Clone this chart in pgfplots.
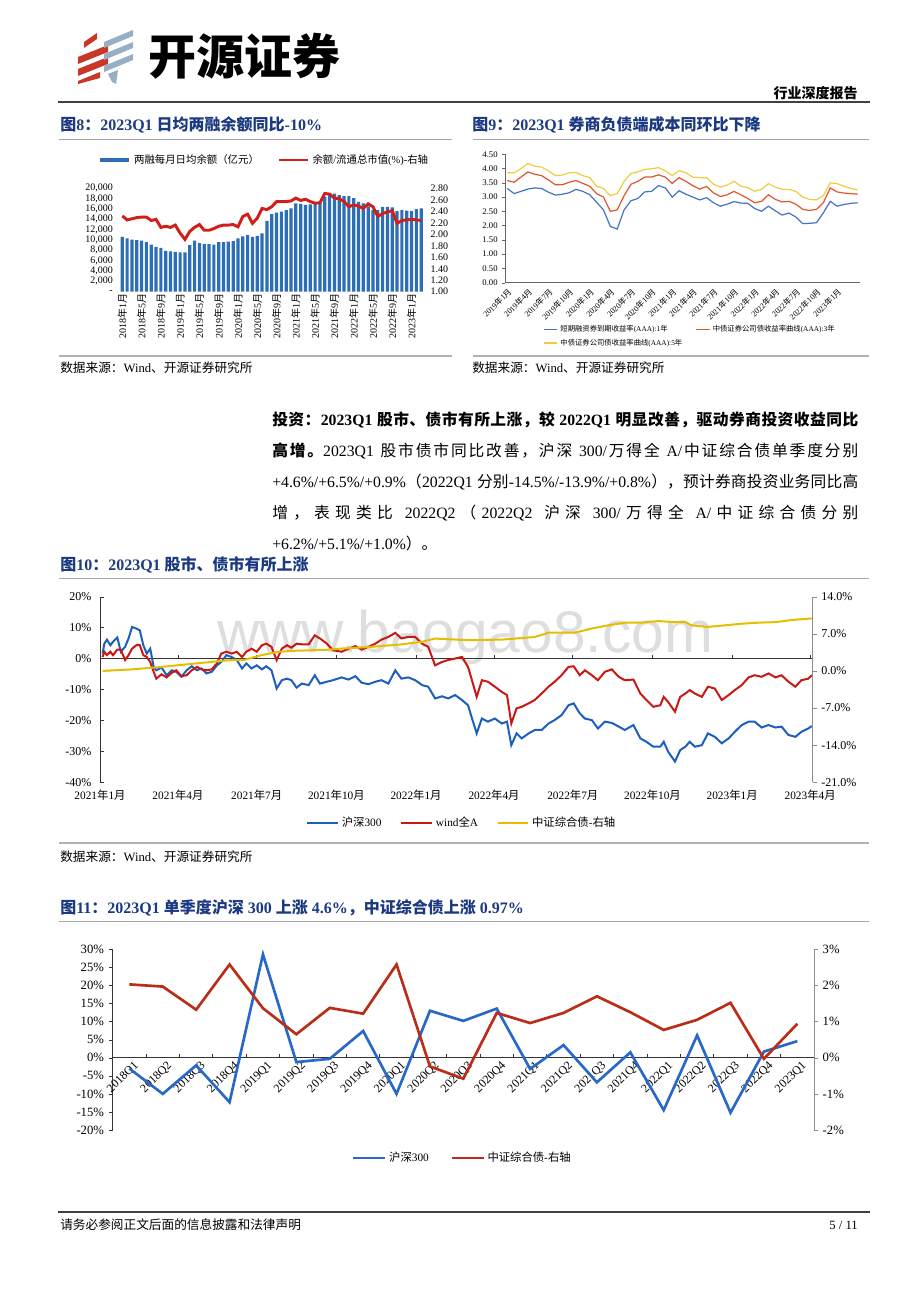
\documentclass[border=0pt]{standalone}
\usepackage{fontspec}
\setmainfont{Liberation Serif}
\newfontfamily\cjkfont{Noto Sans CJK SC}
\newfontfamily\wmfont{Liberation Sans}
\usepackage{pgfplots}
\pgfplotsset{compat=1.18}

% switch to the CJK font for CJK characters, back to the main font afterwards
\XeTeXinterchartokenstate=1
\newXeTeXintercharclass\CJKclass
\newcount\cjkc
\def\setcjkrange#1#2{\cjkc=#1 \loop\XeTeXcharclass\cjkc=\CJKclass\advance\cjkc by 1 \ifnum\cjkc<#2 \repeat}
\setcjkrange{"3000}{"3040}
\setcjkrange{"4E00}{"A000}
\setcjkrange{"FF00}{"FFF0}
\def\jfil{}
\XeTeXinterchartoks 0 \CJKclass = {\jfil\cjkfont}
\XeTeXinterchartoks 4095 \CJKclass = {\cjkfont}
\XeTeXinterchartoks \CJKclass 0 = {\jfil\rmfamily}
\XeTeXinterchartoks \CJKclass 4095 = {\rmfamily}
\XeTeXinterchartoks \CJKclass \CJKclass = {\jfil}

\newcommand\fs[1]{\fontsize{#1}{#1}\selectfont}
% one justified line of the paragraph
\newcommand\jline[1]{{\def\jfil{\hskip 0pt plus 1fil}\spaceskip=0.25em plus 1.5fil\relax\makebox[439.5pt][s]{#1}}}

\definecolor{titleblue}{RGB}{28,58,130}
\definecolor{logored}{RGB}{200,55,40}
\definecolor{logoblue}{RGB}{150,175,195}
\definecolor{c8bar}{RGB}{45,110,185}
\definecolor{c8red}{RGB}{210,30,25}
\definecolor{c9blue}{RGB}{68,114,196}
\definecolor{c9red}{RGB}{225,85,45}
\definecolor{c9yel}{RGB}{240,205,60}
\definecolor{c10blue}{RGB}{30,95,190}
\definecolor{c10red}{RGB}{200,25,20}
\definecolor{c10yel}{RGB}{230,190,0}
\definecolor{c11blue}{RGB}{40,105,200}
\definecolor{c11red}{RGB}{185,45,25}

\begin{document}
\begin{tikzpicture}[x=0.75pt,y=-0.75pt]
\fill[white] (0,0) rectangle (920,1302);

% ---- header
\fill[logored] (84,42) -- (97,33) -- (97,39) -- (84,48) -- cycle;
\fill[logored] (78,57) -- (108,45) -- (108,52) -- (78,64) -- cycle;
\fill[logored] (78,69) -- (108,57) -- (108,64) -- (78,76) -- cycle;
\fill[logored] (78,81) -- (100,72) -- (100,78) -- (78,84) -- cycle;
\fill[logoblue] (104,42) -- (133,30) -- (133,36) -- (104,48) -- cycle;
\fill[logoblue] (104,54) -- (133,42) -- (133,48) -- (104,60) -- cycle;
\fill[logoblue] (104,66) -- (133,54) -- (133,60) -- (104,72) -- cycle;
\fill[logoblue] (108,74) -- (118,70) -- (116,84) -- (112,82) -- cycle;
\node[anchor=west, inner sep=0pt] at (148,56) {\fs{36}\bfseries 开源证券};
\node[anchor=east, inner sep=0pt] at (858,93) {\fs{10.5}\bfseries 行业深度报告};
\draw[black!75, line width=1.2pt] (58,102) -- (870,102);

% ---- figure titles and rules
\node[anchor=west, inner sep=0pt, text=titleblue] at (60,125) {\fs{12}\bfseries 图8：2023Q1 日均两融余额同比-10\%};
\node[anchor=west, inner sep=0pt, text=titleblue] at (472,125) {\fs{12}\bfseries 图9：2023Q1 券商负债端成本同环比下降};
\draw[gray!70, line width=0.6pt] (59,139) -- (452,139);
\draw[gray!70, line width=0.6pt] (473,139) -- (869,139);
\draw[gray!60, line width=1.5pt] (59,356) -- (452,356);
\draw[gray!60, line width=1.5pt] (473,356) -- (869,356);
\node[anchor=west, inner sep=0pt] at (60,368) {\fs{9.5}数据来源：Wind、开源证券研究所};
\node[anchor=west, inner sep=0pt] at (472,368) {\fs{9.5}数据来源：Wind、开源证券研究所};

% ---- paragraph
\node[anchor=west, inner sep=0pt] at (272,420) {\fs{11.8}\bfseries\jline{投资：2023Q1 股市、债市有所上涨，较 2022Q1 明显改善，驱动券商投资收益同比}};
\node[anchor=west, inner sep=0pt] at (272,451) {\fs{11.8}\jline{\textbf{高增。}2023Q1 股市债市同比改善，沪深 300/万得全 A/中证综合债单季度分别}};
\node[anchor=west, inner sep=0pt] at (272,482) {\fs{11.8}\jline{+4.6\%/+6.5\%/+0.9\%（2022Q1 分别-14.5\%/-13.9\%/+0.8\%），预计券商投资业务同比高}};
\node[anchor=west, inner sep=0pt] at (272,513) {\fs{11.8}\jline{增，表现类比 2022Q2（2022Q2 沪深 300/万得全 A/中证综合债分别}};
\node[anchor=west, inner sep=0pt] at (272,544) {\fs{11.8}+6.2\%/+5.1\%/+1.0\%）。};

\node[anchor=west, inner sep=0pt, text=titleblue] at (60,565) {\fs{12}\bfseries 图10：2023Q1 股市、债市有所上涨};
\draw[gray!70, line width=0.6pt] (59,578) -- (869,578);
\draw[gray!60, line width=1.5pt] (59,843) -- (869,843);
\node[anchor=west, inner sep=0pt] at (60,857) {\fs{9.5}数据来源：Wind、开源证券研究所};
\node[anchor=base west, inner sep=0pt, text=black!13] at (217,652) {\wmfont\fs{44}www.baogao8.com};

\node[anchor=west, inner sep=0pt, text=titleblue] at (60,908) {\fs{12}\bfseries 图11：2023Q1 单季度沪深 300 上涨 4.6\%，中证综合债上涨 0.97\%};
\draw[gray!70, line width=0.6pt] (59,921) -- (869,921);
\draw[black!75, line width=1pt] (58,1212) -- (870,1212);
\node[anchor=west, inner sep=0pt] at (60,1225) {\fs{9.5}请务必参阅正文后面的信息披露和法律声明};
\node[anchor=east, inner sep=0pt] at (858,1225) {\fs{9.5}5 / 11};

% ================= Figure 8
\begin{axis}[at={(88.1pt,-218.8pt)}, anchor=south west, scale only axis,
  width=231.4pt, height=77.55pt,
  xmin=-1, xmax=63, ymin=0, ymax=20000,
  axis line style={draw=none}, tick style={draw=none},
  xtick pos=bottom, ytick pos=left, scaled y ticks=false,
  ytick={0,2000,4000,6000,8000,10000,12000,14000,16000,18000,20000},
  yticklabels={-,{2,000},{4,000},{6,000},{8,000},{10,000},{12,000},{14,000},{16,000},{18,000},{20,000}},
  xtick={0,4,...,60},
  xticklabels={2018年1月,2018年5月,2018年9月,2019年1月,2019年5月,2019年9月,2020年1月,2020年5月,2020年9月,2021年1月,2021年5月,2021年9月,2022年1月,2022年5月,2022年9月,2023年1月},
  x tick label style={rotate=90, anchor=east, font=\fs{7.5}, inner sep=1pt},
  y tick label style={font=\fs{7.5}},
]
\addplot[ybar, bar width=2.4pt, fill=c8bar, draw=none] coordinates {
(0,10600) (1,10300) (2,10100) (3,10000) (4,9900) (5,9600) (6,9100) (7,8700)
(8,8500) (9,7900) (10,7800) (11,7700) (12,7600) (13,7600) (14,9000) (15,9900)
(16,9400) (17,9200) (18,9200) (19,9100) (20,9600) (21,9600) (22,9700) (23,9800)
(24,10300) (25,10700) (26,11000) (27,10600) (28,10800) (29,11300) (30,13700) (31,15000)
(32,15300) (33,15500) (34,15800) (35,16100) (36,17100) (37,17000) (38,16800) (39,16900)
(40,17100) (41,17400) (42,18400) (43,19000) (44,19000) (45,18700) (46,18500) (47,18500)
(48,18100) (49,17400) (50,17100) (51,16500) (52,15800) (53,15800) (54,16400) (55,16400)
(56,16300) (57,15600) (58,15800) (59,15700) (60,15600) (61,16000) (62,16100)
};
\end{axis}
\begin{axis}[at={(88.1pt,-218.8pt)}, anchor=south west, scale only axis,
  width=231.4pt, height=77.55pt,
  xmin=-1, xmax=63, ymin=1, ymax=2.8,
  axis x line=none, axis y line*=right, axis line style={draw=none}, tick style={draw=none},
  ytick={1,1.2,1.4,1.6,1.8,2,2.2,2.4,2.6,2.8},
  yticklabels={1.00,1.20,1.40,1.60,1.80,2.00,2.20,2.40,2.60,2.80},
  y tick label style={font=\fs{7.5}},
  legend image code/.code={\draw[#1] (0pt,0pt) -- (22pt,0pt);},
  legend style={draw=none, fill=none, font=\fs{7.8}, at={(0.475,1.274)}, anchor=center,
    inner sep=0pt, /tikz/every even column/.append style={column sep=12pt}},
  legend columns=2, legend cell align=left,
]
\addlegendimage{c8bar, line width=3.6pt}
\addlegendentry{两融每月日均余额（亿元）}
\addplot[c8red, line width=2.2pt] coordinates {
(0,2.32) (1,2.25) (2,2.27) (3,2.29) (4,2.30) (5,2.30) (6,2.24) (7,2.26)
(8,2.12) (9,2.14) (10,2.12) (11,2.16) (12,2.02) (13,1.91) (14,2.05) (15,2.12)
(16,2.17) (17,2.07) (18,2.07) (19,2.10) (20,2.14) (21,2.16) (22,2.16) (23,2.17)
(24,2.13) (25,2.31) (26,2.35) (27,2.19) (28,2.28) (29,2.45) (30,2.43) (31,2.48)
(32,2.57) (33,2.57) (34,2.57) (35,2.58) (36,2.63) (37,2.59) (38,2.61) (39,2.57)
(40,2.54) (41,2.55) (42,2.71) (43,2.70) (44,2.63) (45,2.62) (46,2.57) (47,2.48)
(48,2.51) (49,2.49) (50,2.45) (51,2.53) (52,2.48) (53,2.31) (54,2.36) (55,2.39)
(56,2.41) (57,2.19) (58,2.24) (59,2.25) (60,2.26) (61,2.25) (62,2.24)
};
\addlegendentry{余额/流通总市值(\%)-右轴}
\end{axis}

% ================= Figure 9
\begin{axis}[at={(378.75pt,-212pt)}, anchor=south west, scale only axis,
  width=266.25pt, height=96.3pt,
  xmin=-0.33, xmax=51.33, ymin=0, ymax=4.5,
  axis x line*=bottom, axis y line*=left, axis line style={black!60, line width=0.5pt},
  ytick={0,0.5,1,1.5,2,2.5,3,3.5,4,4.5},
  yticklabels={0.00,0.50,1.00,1.50,2.00,2.50,3.00,3.50,4.00,4.50},
  xtick={0,3,...,48},
  xticklabels={2019年1月,2019年4月,2019年7月,2019年10月,2020年1月,2020年4月,2020年7月,2020年10月,2021年1月,2021年4月,2021年7月,2021年10月,2022年1月,2022年4月,2022年7月,2022年10月,2023年1月},
  x tick label style={rotate=45, anchor=north east, font=\fs{6}, inner sep=1pt},
  y tick label style={font=\fs{6.5}},
  xtick style={draw=none}, ytick style={black!60}, major tick length=2pt, tick align=outside,
  legend image code/.code={\draw[#1] (0pt,0pt) -- (10pt,0pt);},
  legend style={draw=none, fill=none, font=\fs{5.5}, at={(0.107,-0.31)}, anchor=north west,
    inner sep=0pt, /tikz/every even column/.append style={column sep=8pt}},
  legend columns=2, legend cell align=left,
]
\addplot[c9blue, line width=0.9pt] coordinates {
(0,3.30) (1,3.12) (2,3.20) (3,3.28) (4,3.32) (5,3.30) (6,3.17) (7,3.07) (8,3.10) (9,3.15)
(10,3.27) (11,3.20) (12,3.08) (13,2.82) (14,2.55) (15,1.97) (16,1.88) (17,2.55) (18,2.87) (19,2.95)
(20,3.18) (21,3.20) (22,3.40) (23,3.32) (24,3.00) (25,3.22) (26,3.10) (27,3.00) (28,2.90) (29,2.98)
(30,2.80) (31,2.68) (32,2.75) (33,2.84) (34,2.79) (35,2.78) (36,2.60) (37,2.50) (38,2.68) (39,2.52)
(40,2.37) (41,2.44) (42,2.30) (43,2.07) (44,2.08) (45,2.10) (46,2.45) (47,2.85) (48,2.68) (49,2.74)
(50,2.78) (51,2.80)
};
\addlegendentry{短期融资券到期收益率(AAA):1年}
\addplot[c9red, line width=0.9pt] coordinates {
(0,3.58) (1,3.52) (2,3.70) (3,3.88) (4,3.80) (5,3.75) (6,3.60) (7,3.43) (8,3.43) (9,3.52)
(10,3.58) (11,3.48) (12,3.38) (13,3.12) (14,3.00) (15,2.50) (16,2.55) (17,3.05) (18,3.45) (19,3.55)
(20,3.70) (21,3.70) (22,3.78) (23,3.70) (24,3.48) (25,3.68) (26,3.55) (27,3.40) (28,3.28) (29,3.37)
(30,3.15) (31,3.02) (32,3.08) (33,3.20) (34,3.08) (35,2.95) (36,2.80) (37,2.85) (38,3.08) (39,2.92)
(40,2.83) (41,2.85) (42,2.75) (43,2.57) (44,2.53) (45,2.57) (46,2.80) (47,3.32) (48,3.18) (49,3.14)
(50,3.12) (51,3.10)
};
\addlegendentry{中债证券公司债收益率曲线(AAA):3年}
\addplot[c9yel, line width=0.9pt] coordinates {
(0,3.85) (1,3.85) (2,4.00) (3,4.18) (4,4.08) (5,4.05) (6,3.92) (7,3.75) (8,3.77) (9,3.85)
(10,3.86) (11,3.75) (12,3.68) (13,3.38) (14,3.30) (15,3.05) (16,3.12) (17,3.55) (18,3.83) (19,3.88)
(20,3.97) (21,3.99) (22,4.03) (23,3.92) (24,3.75) (25,3.92) (26,3.85) (27,3.70) (28,3.68) (29,3.68)
(30,3.45) (31,3.35) (32,3.42) (33,3.55) (34,3.38) (35,3.33) (36,3.20) (37,3.27) (38,3.47) (39,3.35)
(40,3.27) (41,3.27) (42,3.20) (43,3.00) (44,2.92) (45,2.90) (46,3.05) (47,3.50) (48,3.47) (49,3.38)
(50,3.30) (51,3.25)
};
\addlegendentry{中债证券公司债收益率曲线(AAA):5年}
\end{axis}

% ================= Figure 10 (x = days since 2021-01-01)
\begin{axis}[at={(75pt,-586.7pt)}, anchor=south west, scale only axis,
  width=534.5pt, height=139.2pt,
  xmin=0, xmax=823, ymin=-40, ymax=20,
  axis x line*=bottom, axis y line*=left,
  x axis line style={draw=none}, y axis line style={black!80, line width=0.6pt},
  xtick={0,90,181,273,365,455,546,638,730,820},
  xticklabels={2021年1月,2021年4月,2021年7月,2021年10月,2022年1月,2022年4月,2022年7月,2022年10月,2023年1月,2023年4月},
  xtick style={draw=none}, x tick label style={font=\fs{8.5}, yshift=-2pt},
  ytick={-40,-30,...,20},
  yticklabels={-40\%,-30\%,-20\%,-10\%,0\%,10\%,20\%},
  y tick label style={font=\fs{9}, xshift=-3pt}, ytick style={black!80},
  major tick length=3pt, tick align=inside,
]
\draw[black!80, line width=0.6pt] (axis cs:0,0) -- (axis cs:823,0);
\pgfplotsinvokeforeach{90,181,273,365,455,546,638,730,820}{\draw[black!80, line width=0.6pt] (axis cs:#1,0) -- ++(0pt,3pt);}
\addplot[c10blue, line width=1.5pt] coordinates {
(3,1.6) (5,4.8) (8,6.1) (12,4.3) (15,5.4) (20,6.8) (24,2.2) (29,3.8) (33,6.5) (37,10.2)
(42,9.7) (46,9.1) (50,4.3) (54,1.6) (58,3.2) (62,-2.7) (65,-3.8) (71,-2.9) (77,-5.4) (83,-3.8)
(88,-4.3) (94,-5.9) (100,-3.8) (106,-2.5) (112,-3.8) (117,-3.2) (123,-4.8) (129,-4.3) (135,-2.2) (140,-1.1)
(146,1.1) (152,0.5) (158,-0.5) (164,-3.2) (169,-1.6) (175,-3.2) (181,-2.2) (187,-3.5) (192,-2.5) (198,-3.8)
(204,-9.7) (210,-7.0) (216,-6.5) (221,-7.0) (227,-9.4) (233,-8.1) (241,-8.6) (248,-5.4) (254,-8.1) (262,-7.5)
(269,-7.0) (279,-6.1) (287,-6.8) (295,-5.7) (302,-7.8) (310,-8.3) (318,-7.5) (325,-7.0) (333,-8.1) (341,-3.8)
(348,-6.5) (356,-6.1) (364,-7.0) (372,-8.6) (379,-9.1) (387,-12.9) (395,-12.2) (402,-12.9) (410,-11.8) (418,-13.4)
(425,-15.1) (429,-18.8) (435,-24.2) (441,-19.4) (448,-20.4) (456,-19.4) (464,-21.0) (470,-20.4) (475,-28.0) (481,-24.2)
(487,-25.8) (495,-24.2) (502,-23.1) (510,-23.1) (518,-21.0) (525,-19.9) (533,-18.3) (541,-15.1) (547,-14.5) (554,-17.7)
(560,-19.4) (568,-19.9) (575,-22.6) (583,-20.4) (591,-20.8) (599,-22.0) (606,-23.1) (616,-21.5) (624,-25.8) (631,-26.9)
(639,-28.5) (647,-28.5) (651,-26.9) (656,-30.1) (664,-33.3) (670,-29.6) (676,-28.5) (681,-26.9) (687,-28.5) (695,-28.0)
(702,-24.2) (710,-25.3) (718,-27.4) (726,-25.8) (733,-23.7) (741,-21.5) (749,-20.4) (756,-20.4) (764,-22.3) (772,-21.5)
(780,-22.3) (787,-22.0) (795,-24.7) (803,-25.3) (810,-23.7) (818,-22.6) (822,-21.8)
};
\addplot[c10red, line width=1.5pt] coordinates {
(3,0.5) (5,2.2) (8,1.1) (12,2.2) (15,1.1) (20,2.9) (24,2.9) (29,-0.5) (33,1.1) (37,3.2)
(42,4.3) (46,4.3) (50,1.1) (54,0.5) (58,-1.1) (62,-4.3) (65,-6.5) (71,-5.1) (77,-6.1) (83,-4.6)
(88,-3.8) (94,-5.7) (100,-5.4) (106,-3.8) (112,-2.7) (117,-3.5) (123,-3.8) (129,-3.5) (135,-1.6) (140,1.6)
(146,2.2) (152,1.6) (158,2.2) (164,0.5) (169,2.2) (175,3.2) (181,2.2) (187,4.3) (192,4.8) (198,3.8)
(204,-0.5) (210,3.2) (216,4.3) (221,3.5) (227,4.8) (233,4.6) (241,4.6) (248,7.5) (254,6.5) (262,4.8)
(269,2.7) (279,2.2) (287,3.2) (295,4.0) (302,2.9) (310,3.8) (318,4.8) (325,6.1) (333,7.0) (341,8.3)
(348,6.5) (356,7.0) (364,7.0) (372,4.8) (379,3.8) (387,-2.2) (395,-1.1) (402,-0.5) (410,0.0) (418,0.5)
(425,-2.7) (429,-6.5) (435,-12.4) (441,-7.0) (448,-7.5) (456,-9.1) (464,-10.8) (470,-11.8) (475,-21.0) (481,-16.1)
(487,-15.6) (495,-14.5) (502,-13.4) (510,-11.3) (518,-9.1) (525,-7.5) (533,-5.4) (541,-2.7) (547,-2.5) (554,-5.4)
(560,-3.8) (568,-5.4) (575,-7.0) (583,-4.3) (591,-3.5) (599,-5.9) (606,-7.0) (616,-6.8) (624,-11.3) (631,-13.4)
(639,-15.6) (647,-15.1) (651,-12.4) (656,-14.0) (664,-17.2) (670,-12.4) (676,-11.3) (681,-10.2) (687,-11.3) (695,-12.4)
(702,-9.1) (710,-9.7) (718,-13.4) (726,-11.8) (733,-10.2) (741,-8.6) (749,-6.1) (756,-5.4) (764,-5.9) (772,-4.8)
(780,-6.1) (787,-5.4) (795,-7.5) (803,-9.1) (810,-7.0) (818,-6.5) (822,-5.4)
};
\end{axis}
\begin{axis}[at={(75pt,-586.7pt)}, anchor=south west, scale only axis,
  width=534.5pt, height=139.2pt,
  xmin=0, xmax=823, ymin=-21, ymax=14,
  axis x line=none, axis y line*=right, y axis line style={black!45, line width=0.6pt},
  ytick={-21,-14,-7,0,7,14},
  yticklabels={-21.0\%,-14.0\%,-7.0\%,0.0\%,7.0\%,14.0\%},
  y tick label style={font=\fs{9}}, ytick style={black!45},
  major tick length=3pt, tick align=outside,
  legend image code/.code={\draw[#1] (0pt,0pt) -- (23pt,0pt);},
  legend style={draw=none, fill=none, font=\fs{8.5}, at={(0.508,-0.219)}, anchor=center,
    inner sep=0pt, /tikz/every even column/.append style={column sep=12pt}},
  legend columns=3, legend cell align=left,
]
\addlegendimage{c10blue, line width=1.8pt}
\addlegendentry{沪深300}
\addlegendimage{c10red, line width=1.8pt}
\addlegendentry{wind全A}
\addplot[c10yel, line width=1.5pt] coordinates {
(3,0.0) (33,0.25) (71,0.75) (110,1.4) (148,2.0) (167,2.1) (187,3.0) (206,3.6) (225,3.8) (264,4.0)
(277,4.2) (310,4.5) (348,5.0) (372,5.5) (387,6.1) (425,5.8) (464,5.9) (502,6.4) (518,7.2) (548,7.2)
(568,8.0) (587,8.6) (606,9.1) (625,9.1) (645,9.4) (664,9.2) (676,9.2) (683,8.6) (702,8.3) (722,8.6)
(741,8.9) (760,9.1) (780,9.2) (799,9.6) (822,9.9)
};
\addlegendentry{中证综合债-右轴}
\end{axis}

% ================= Figure 11
\begin{axis}[at={(84.5pt,-847.5pt)}, anchor=south west, scale only axis,
  width=526pt, height=135.5pt,
  xmin=-0.5, xmax=20.5, ymin=-20, ymax=30,
  axis x line=middle, axis y line=left, axis line style={-, black!80, line width=0.6pt},
  hide obscured x ticks=false, hide obscured y ticks=false,
  xtick={0,...,20},
  xticklabels={2018Q1,2018Q2,2018Q3,2018Q4,2019Q1,2019Q2,2019Q3,2019Q4,2020Q1,2020Q2,2020Q3,2020Q4,2021Q1,2021Q2,2021Q3,2021Q4,2022Q1,2022Q2,2022Q3,2022Q4,2023Q1},
  xtick style={draw=none},
  x tick label style={rotate=45, anchor=north east, font=\fs{9}, inner sep=1pt, xshift=4pt},
  ytick={-20,-15,...,30},
  yticklabels={-20\%,-15\%,-10\%,-5\%,0\%,5\%,10\%,15\%,20\%,25\%,30\%},
  y tick label style={font=\fs{9.5}}, ytick style={black!80},
  major tick length=3pt, tick align=outside,
]
\pgfplotsinvokeforeach{0.5,1.5,...,19.5}{\draw[black!80, line width=0.6pt] (axis cs:#1,0) -- ++(0pt,3pt);}
\addplot[c11blue, line width=2pt] coordinates {
(0,-3.0) (1,-10.0) (2,-2.1) (3,-12.3) (4,28.6) (5,-1.2) (6,-0.3) (7,7.4) (8,-10.0) (9,13.0)
(10,10.2) (11,13.6) (12,-3.1) (13,3.5) (14,-6.8) (15,1.5) (16,-14.5) (17,6.2) (18,-15.2) (19,1.7)
(20,4.6)
};
\end{axis}
\begin{axis}[at={(84.5pt,-847.5pt)}, anchor=south west, scale only axis,
  width=526pt, height=135.5pt,
  xmin=-0.5, xmax=20.5, ymin=-2, ymax=3,
  axis x line=none, axis y line*=right, y axis line style={black!45, line width=0.6pt},
  ytick={-2,-1,0,1,2,3},
  yticklabels={-2\%,-1\%,0\%,1\%,2\%,3\%},
  y tick label style={font=\fs{9.5}}, ytick style={black!45},
  major tick length=3pt, tick align=outside,
  legend image code/.code={\draw[#1] (0pt,0pt) -- (24pt,0pt);},
  legend style={draw=none, fill=none, font=\fs{8.5}, at={(0.499,-0.155)}, anchor=center,
    inner sep=0pt, /tikz/every even column/.append style={column sep=14pt}},
  legend columns=2, legend cell align=left,
]
\addlegendimage{c11blue, line width=2pt}
\addlegendentry{沪深300}
\addplot[c11red, line width=2pt] coordinates {
(0,2.03) (1,1.97) (2,1.33) (3,2.58) (4,1.37) (5,0.65) (6,1.38) (7,1.22) (8,2.58) (9,-0.24)
(10,-0.58) (11,1.24) (12,0.96) (13,1.24) (14,1.70) (15,1.26) (16,0.77) (17,1.05) (18,1.52) (19,-0.03)
(20,0.94)
};
\addlegendentry{中证综合债-右轴}
\end{axis}
\end{tikzpicture}
\end{document}
